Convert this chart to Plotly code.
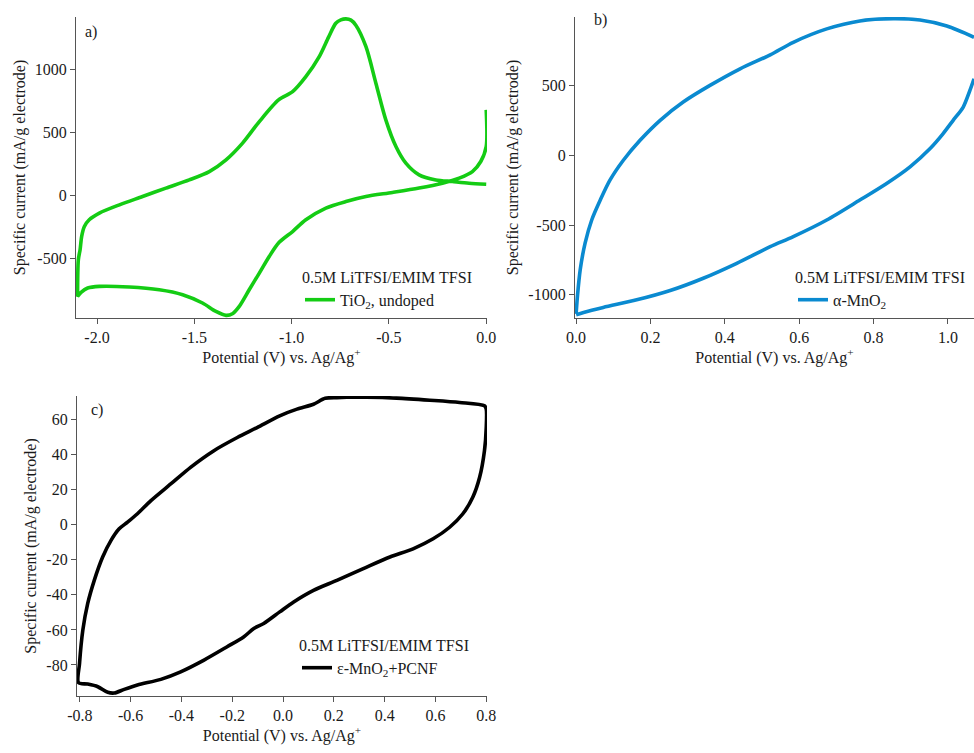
import plotly.graph_objects as go

# ---------------- data ----------------
electrolyte = "0.5M LiTFSI/EMIM TFSI"

# a) TiO2, undoped: cathodic sweep from 0 V, then anodic sweep back to 0 V
tio2_v = [0.0, 0.0, -0.028, -0.071, -0.139, -0.225, -0.345, -0.482, -0.618, -0.721,
          -0.824, -0.927, -0.995, -1.064, -1.115, -1.166, -1.218, -1.269, -1.304,
          -1.337, -1.389, -1.458, -1.560, -1.680, -1.834, -1.988, -2.048, -2.082,
          -2.100, -2.100, -2.096, -2.087, -2.079, -2.065, -2.040, -1.988, -1.885,
          -1.766, -1.646, -1.526, -1.423, -1.337, -1.252, -1.166, -1.067, -0.995,
          -0.927, -0.858, -0.810, -0.773, -0.747, -0.721, -0.695, -0.670, -0.618,
          -0.567, -0.516, -0.464, -0.413, -0.345, -0.259, -0.174, -0.088, 0.0]
tio2_i = [677, 386, 267, 187, 135, 95, 56, 21, -11, -51,
          -103, -196, -289, -375, -487, -619, -752, -884, -942,
          -955, -924, -857, -791, -752, -730, -725, -738, -773,
          -805, -805, -513, -434, -329, -249, -196, -143, -77,
          -11, 56, 121, 187, 280, 413, 584, 756, 822,
          941, 1100, 1255, 1365, 1392, 1400, 1390, 1350, 1179,
          889, 598, 386, 254, 161, 121, 108, 95, 87]

# b) alpha-MnO2: anodic branch, then cathodic branch (loop closes beyond 1.07 V)
mno2_v = [0.0, 0.0035, 0.011, 0.024, 0.042, 0.065, 0.091, 0.127, 0.172, 0.226,
          0.288, 0.360, 0.441, 0.522, 0.584, 0.674, 0.763, 0.853, 0.925, 0.997, 1.070,
          None,
          1.070, 1.059, 1.041, 1.014, 0.987, 0.952, 0.898, 0.835, 0.763, 0.674,
          0.584, 0.522, 0.432, 0.342, 0.253, 0.163, 0.073, 0.020, 0.0]
mno2_i = [-1136, -1012, -821, -631, -464, -321, -179, -36, 107, 250,
          381, 500, 619, 719, 809, 905, 962, 978, 968, 925, 845,
          None,
          548, 464, 345, 250, 155, 48, -83, -202, -321, -464,
          -583, -655, -774, -881, -969, -1036, -1090, -1126, -1143]

# c) epsilon-MnO2 + PCNF: closed loop
pcnf_v = [-0.805, -0.801, -0.788, -0.769, -0.743, -0.710, -0.677, -0.645, -0.612,
          -0.573, -0.520, -0.442, -0.364, -0.272, -0.180, -0.102, -0.013, 0.055,
          0.120, 0.166, 0.212, 0.251, 0.329, 0.447, 0.578, 0.695, 0.793, 0.800,
          0.800, 0.793, 0.774, 0.747, 0.708, 0.656, 0.591, 0.512, 0.421, 0.316,
          0.212, 0.120, 0.042, -0.013, -0.076, -0.115, -0.155, -0.220, -0.311,
          -0.403, -0.481, -0.573, -0.625, -0.664, -0.690, -0.729, -0.769, -0.805]
pcnf_i = [-90.1, -79.1, -60.1, -45.0, -31.7, -18.4, -8.9, -2.3, 1.5,
          6.3, 13.8, 23.3, 32.8, 42.3, 49.8, 55.5, 62.2, 66.0,
          68.8, 72.2, 72.6, 72.8, 72.8, 72.3, 71.1, 69.8, 67.9, 66.0,
          55.5, 42.3, 27.1, 15.7, 6.3, -1.4, -8.0, -13.7, -18.4, -25.0,
          -31.7, -37.4, -44.0, -49.7, -56.3, -59.2, -64.0, -69.6, -77.2,
          -83.9, -88.2, -91.4, -93.9, -96.0, -95.6, -92.4, -90.9, -90.1]

a_xticks = [-2.0, -1.5, -1.0, -0.5, 0.0]
a_yticks = [-500, 0, 500, 1000]
b_xticks = [0.0, 0.2, 0.4, 0.6, 0.8, 1.0]
b_yticks = [-1000, -500, 0, 500]
c_xticks = [-0.8, -0.6, -0.4, -0.2, 0.0, 0.2, 0.4, 0.6, 0.8]
c_yticks = [-80, -60, -40, -20, 0, 20, 40, 60]

# ---------------- styling ----------------
W, H = 974, 753
FONT = "Liberation Serif, Times New Roman, serif"
AXIS_COLOR = "#555555"
TEXT_COLOR = "#1a1a1a"
FS = 16
X_TITLE = "Potential (V) vs. Ag/Ag<sup>+</sup>"
Y_TITLE = "Specific current (mA/g electrode)"


def px_x(p):
    return p / W


def px_y(p):
    return 1 - p / H


def axis(domain, rng, ticks, fmt, title):
    return dict(
        domain=domain, range=rng, tickvals=ticks,
        ticktext=[fmt.format(t) for t in ticks],
        showline=True, linecolor=AXIS_COLOR, linewidth=1.3,
        ticks="outside", ticklen=5, tickwidth=1.3, tickcolor=AXIS_COLOR,
        showgrid=False, zeroline=False, automargin=False,
        tickfont=dict(family=FONT, size=FS, color=TEXT_COLOR),
        title=dict(text=title, font=dict(family=FONT, size=FS, color=TEXT_COLOR),
                   standoff=5),
    )


line_style = dict(width=3.6, shape="spline", smoothing=0.8)

fig = go.Figure()
fig.add_trace(go.Scatter(x=tio2_v, y=tio2_i, mode="lines", name="TiO<sub>2</sub>, undoped",
                         line=dict(color="#14cc14", **line_style),
                         xaxis="x", yaxis="y", legend="legend"))
fig.add_trace(go.Scatter(x=mno2_v, y=mno2_i, mode="lines", name="α-MnO<sub>2</sub>",
                         line=dict(color="#0a8ad0", **line_style),
                         connectgaps=False, xaxis="x2", yaxis="y2", legend="legend2"))
fig.add_trace(go.Scatter(x=pcnf_v, y=pcnf_i, mode="lines", name="ε-MnO<sub>2</sub>+PCNF",
                         line=dict(color="#000000", **line_style),
                         xaxis="x3", yaxis="y3", legend="legend3"))

top_dom = [px_y(318), px_y(17)]
bot_dom = [px_y(696), px_y(396)]

layout = dict(
    width=W, height=H,
    margin=dict(l=0, r=0, t=0, b=0),
    paper_bgcolor="white", plot_bgcolor="white",
    font=dict(family=FONT, size=FS, color=TEXT_COLOR),
    xaxis=dict(axis([px_x(76), px_x(487)], [-2.108, 0.004], a_xticks, "{:.1f}", X_TITLE), anchor="y"),
    yaxis=dict(axis(top_dom, [-976, 1415], a_yticks, "{:d}", Y_TITLE), anchor="x"),
    xaxis2=dict(axis([px_x(575), 1.0], [-0.003, 1.070], b_xticks, "{:.1f}", X_TITLE), anchor="y2"),
    yaxis2=dict(axis(top_dom, [-1166, 990], b_yticks, "{:d}", Y_TITLE), anchor="x2"),
    xaxis3=dict(axis([px_x(77), px_x(487)], [-0.811, 0.803], c_xticks, "{:.1f}", X_TITLE), anchor="y3"),
    yaxis3=dict(axis(bot_dom, [-97.7, 73.5], c_yticks, "{:d}", Y_TITLE), anchor="x3"),
    showlegend=True,
)


def legend_box(x_px, y_px):
    return dict(
        x=px_x(x_px), y=px_y(y_px), xanchor="left", yanchor="top",
        bgcolor="rgba(0,0,0,0)", borderwidth=0, itemwidth=30,
        font=dict(family=FONT, size=FS, color=TEXT_COLOR),
        title=dict(text=electrolyte, font=dict(family=FONT, size=FS, color=TEXT_COLOR)),
        tracegroupgap=0,
    )


layout["legend"] = legend_box(300, 262)
layout["legend2"] = legend_box(793, 262)
layout["legend3"] = legend_box(297, 630)

panel_labels = [("a)", 83, 32), ("b)", 592, 20), ("c)", 89, 410)]
layout["annotations"] = [
    dict(text=t, x=px_x(xp), y=px_y(yp), xref="paper", yref="paper",
         xanchor="left", yanchor="middle", showarrow=False,
         font=dict(family=FONT, size=FS, color=TEXT_COLOR))
    for t, xp, yp in panel_labels
]

fig.update_layout(**layout)
fig.write_html("out.html")
